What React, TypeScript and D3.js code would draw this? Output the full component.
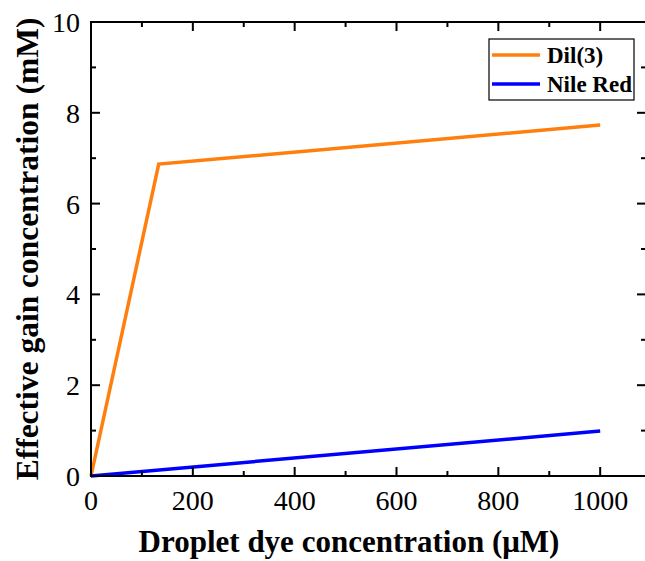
import * as d3 from "d3";

const dilX = [0, 133, 1000];
const dilY = [0, 6.87, 7.73];
const nileX = [0, 1000];
const nileY = [0, 0.99];
const xTicks = [0, 200, 400, 600, 800, 1000];
const yTicks = [0, 2, 4, 6, 8, 10];
const seriesNames = ["Dil(3)", "Nile Red"];
const seriesColors = ["#ff7f0e", "#0000ff"];

const W = 645;
const H = 561;
const m = { left: 91, top: 22, right: 0, bottom: 85 };

export default function App() {
  const x = d3.scaleLinear().domain([0, 1090]).range([m.left, W + 1]);
  const y = d3.scaleLinear().domain([0, 10]).range([H - m.bottom, m.top]);
  const line = d3
    .line<[number, number]>()
    .x((d) => x(d[0]))
    .y((d) => y(d[1]));

  const series = [
    d3.zip(dilX, dilY) as [number, number][],
    d3.zip(nileX, nileY) as [number, number][],
  ];

  const xMinor = d3.range(100, 1090, 200);
  const yMinor = d3.range(1, 10, 2);
  const x0 = x.range()[0];
  const x1 = x.range()[1];
  const y0 = y.range()[0];
  const y1 = y.range()[1];
  const font = "'Liberation Serif', 'Times New Roman', serif";

  return (
    <div style={{ position: "absolute", left: 0, top: 0 }}>
      <svg width={W} height={H} style={{ display: "block", fontFamily: font }}>
        <rect width={W} height={H} fill="white" />
        {/* data lines */}
        {series.map((s, i) => (
          <path
            key={seriesNames[i]}
            d={line(s) ?? ""}
            fill="none"
            stroke={seriesColors[i]}
            strokeWidth={3.5}
            strokeLinejoin="miter"
          />
        ))}

        {/* frame */}
        <rect
          x={x0}
          y={y1}
          width={x1 - x0}
          height={y0 - y1}
          fill="none"
          stroke="black"
          strokeWidth={2}
        />

        {/* x ticks (bottom + top) */}
        {xTicks.map((t) => (
          <g key={"xt" + t}>
            <line x1={x(t)} x2={x(t)} y1={y0} y2={y0 - 9} stroke="black" strokeWidth={2} />
            <line x1={x(t)} x2={x(t)} y1={y1} y2={y1 + 9} stroke="black" strokeWidth={2} />
            <text x={x(t)} y={510} textAnchor="middle" fontSize={28}>
              {t}
            </text>
          </g>
        ))}
        {xMinor.map((t) => (
          <g key={"xm" + t}>
            <line x1={x(t)} x2={x(t)} y1={y0} y2={y0 - 5} stroke="black" strokeWidth={2} />
            <line x1={x(t)} x2={x(t)} y1={y1} y2={y1 + 5} stroke="black" strokeWidth={2} />
          </g>
        ))}

        {/* y ticks (left + right) */}
        {yTicks.map((t) => (
          <g key={"yt" + t}>
            <line x1={x0} x2={x0 + 9} y1={y(t)} y2={y(t)} stroke="black" strokeWidth={2} />
            <line x1={x1} x2={x1 - 9} y1={y(t)} y2={y(t)} stroke="black" strokeWidth={2} />
            <text x={80} y={y(t) + 10} textAnchor="end" fontSize={28}>
              {t}
            </text>
          </g>
        ))}
        {yMinor.map((t) => (
          <g key={"ym" + t}>
            <line x1={x0} x2={x0 + 5} y1={y(t)} y2={y(t)} stroke="black" strokeWidth={2} />
            <line x1={x1} x2={x1 - 5} y1={y(t)} y2={y(t)} stroke="black" strokeWidth={2} />
          </g>
        ))}

        {/* axis titles */}
        <text x={349} y={552} textAnchor="middle" fontSize={31} fontWeight="bold">
          Droplet dye concentration (μM)
        </text>
        <text
          transform={`translate(38, ${(y0 + y1) / 2}) rotate(-90)`}
          textAnchor="middle"
          fontSize={31.5}
          fontWeight="bold"
        >
          Effective gain concentration (mM)
        </text>

        {/* legend */}
        <g>
          <rect x={489} y={39} width={145} height={61} fill="white" stroke="black" strokeWidth={1.2} />
          {seriesNames.map((n, i) => (
            <g key={n}>
              <line
                x1={492}
                x2={540}
                y1={55 + i * 29}
                y2={55 + i * 29}
                stroke={seriesColors[i]}
                strokeWidth={3.5}
              />
              <text x={547} y={63 + i * 29} fontSize={23} fontWeight="bold">
                {n}
              </text>
            </g>
          ))}
        </g>
      </svg>
    </div>
  );
}
